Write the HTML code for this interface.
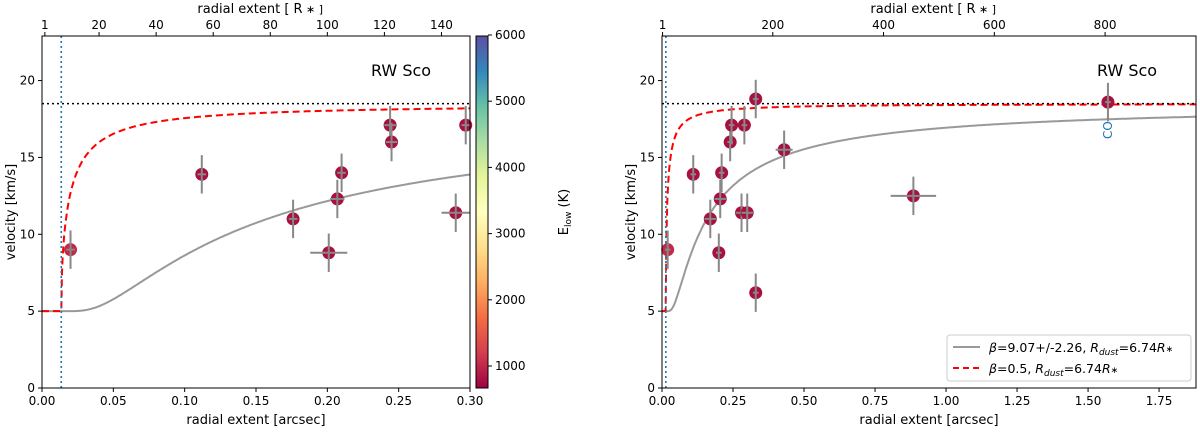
<!DOCTYPE html>
<html><head><meta charset="utf-8"><style>
body{margin:0;background:#fff;width:1200px;height:430px;overflow:hidden}
svg text{font-family:"DejaVu Sans","Liberation Sans",sans-serif;fill:#000}
</style></head><body>
<svg id="c" width="1200" height="430" xmlns="http://www.w3.org/2000/svg">
<defs><linearGradient id="cb" x1="0" y1="1" x2="0" y2="0">
<stop offset="0" stop-color="#9e0142"/><stop offset="0.1" stop-color="#d53e4f"/><stop offset="0.2" stop-color="#f46d43"/><stop offset="0.3" stop-color="#fdae61"/><stop offset="0.4" stop-color="#fee08b"/><stop offset="0.5" stop-color="#ffffbf"/><stop offset="0.6" stop-color="#e6f598"/><stop offset="0.7" stop-color="#abdda4"/><stop offset="0.8" stop-color="#66c2a5"/><stop offset="0.9" stop-color="#3288bd"/><stop offset="1" stop-color="#5e4fa2"/></linearGradient></defs>
</svg>
<script>
const leftX=[0.020,0.112,0.176,0.201,0.207,0.210,0.244,0.245,0.290,0.297];
const leftY=[9.0,13.9,11.0,8.8,12.3,14.0,17.1,16.0,11.4,17.1];
const leftXerr=[0.003,0.003,0.003,0.013,0.005,0.003,0.004,0.004,0.010,0.003];
const rightX=[0.02,0.11,0.17,0.20,0.205,0.21,0.24,0.245,0.28,0.29,0.30,0.33,0.33,0.43,0.885,1.57];
const rightY=[9.0,13.9,11.0,8.8,12.3,14.0,16.0,17.1,11.4,17.1,11.4,18.8,6.2,15.5,12.5,18.6];
const rightXerr=[0.01,0.01,0.02,0.01,0.02,0.01,0.01,0.01,0.02,0.01,0.02,0.01,0.01,0.03,0.08,0.01];
const yErr=1.25;
const leftXTicks=[0,0.05,0.10,0.15,0.20,0.25,0.30];
const rightXTicks=[0,0.25,0.5,0.75,1.0,1.25,1.5,1.75];
const yTicks=[0,5,10,15,20];
const leftTopTicks=[1,20,40,60,80,100,120,140];
const rightTopTicks=[1,200,400,600,800];
const cbTicks=[1000,2000,3000,4000,5000,6000];
const vInf=18.5,v0=5,rDust=0.0135,betaFit=9.07,betaRef=0.5;
const svg=document.getElementById('c');const NS='http://www.w3.org/2000/svg';
function el(t,a,p){const e=document.createElementNS(NS,t);for(const k in a)e.setAttribute(k,a[k]);(p||svg).appendChild(e);return e;}
function txt(s,a,p){const e=el('text',a,p);e.textContent=s;return e;}
function beta(r,b){return r<=rDust?v0:v0+(vInf-v0)*Math.pow(1-rDust/r,b);}
function panel(name,L,R,xmax,X,Y,XE,xt,tt,fmt,legend,rStar){
 const T=36,B=388,ymax=22.9;
 const sx=v=>L+(v/xmax)*(R-L), sy=v=>B-(v/ymax)*(B-T);
 const g=el('g',{},svg);
 let d1='',d2='';for(let i=0;i<=600;i++){const r=xmax*i/600;d1+=(i?'L':'M')+sx(r).toFixed(1)+','+sy(beta(r,betaFit)).toFixed(1);d2+=(i?'L':'M')+sx(r).toFixed(1)+','+sy(beta(r,betaRef)).toFixed(1);}
 const c1=el('path',{d:d1,fill:'none',stroke:'#999','stroke-width':2},g);
 const c2=el('path',{d:d2,fill:'none',stroke:'#f00','stroke-width':2,'stroke-dasharray':'7,4'},g);
 const h=el('line',{x1:L,x2:R,y1:sy(vInf),y2:sy(vInf),stroke:'#000','stroke-width':1.6,'stroke-dasharray':'2,3'},g);
 const vl=el('line',{x1:sx(rDust),x2:sx(rDust),y1:T,y2:B,stroke:'#1f77b4','stroke-width':1.6,'stroke-dasharray':'2,3'},g);
 for(let i=0;i<X.length;i++){
  const cx=sx(X[i]),cy=sy(Y[i]);
  const m=el('circle',{cx:cx,cy:cy,r:6.5,fill:i==0?'#c1294a':'#a8103f'},g);
  const e1=el('line',{x1:cx,x2:cx,y1:sy(Y[i]-yErr),y2:sy(Y[i]+yErr),stroke:'#888','stroke-width':2},g);
  const e2=el('line',{x1:sx(X[i]-XE[i]),x2:sx(X[i]+XE[i]),y1:cy,y2:cy,stroke:'#888','stroke-width':2},g);
 }
 const fr=el('rect',{x:L,y:T,width:R-L,height:B-T,fill:'none',stroke:'#000','stroke-width':1},g);
 xt.forEach(v=>{const x=sx(v);el('line',{x1:x,x2:x,y1:B,y2:B+4,stroke:'#000'},g);const t=txt(fmt(v),{x:x,y:B+17,'font-size':12,'text-anchor':'middle'},g);});
 yTicks.forEach(v=>{const y=sy(v);el('line',{x1:L-4,x2:L,y1:y,y2:y,stroke:'#000'},g);const t=txt(v,{x:L-7,y:y+4,'font-size':12,'text-anchor':'end'},g);});
 tt.forEach(v=>{const x=sx(v*rStar);el('line',{x1:x,x2:x,y1:T-4,y2:T,stroke:'#000'},g);const t=txt(v,{x:x,y:T-7,'font-size':12,'text-anchor':'middle'},g);});
 let t=txt('radial extent [arcsec]',{x:(L+R)/2,y:B+36,'font-size':13,'text-anchor':'middle'},g);
 t=txt('radial extent [ R',{x:(L+R)/2-6,y:13,'font-size':13,'text-anchor':'middle'},g);
 txt('∗ ]',{x:(L+R)/2+50,y:13,'font-size':11},g);
 t=txt('velocity [km/s]',{x:0,y:0,'font-size':13,'text-anchor':'middle',transform:`translate(${L-27},${(T+B)/2}) rotate(-90)`},g);
 t=txt('RW Sco',{x:R-69,y:76,'font-size':16,'text-anchor':'middle'},g);
 if(legend){
  const lg=el('g',{},g);
  el('rect',{x:947,y:335,width:244,height:46,rx:3,fill:'#fff',stroke:'#ccc'},lg);
  el('line',{x1:953,x2:980,y1:347,y2:347,stroke:'#999','stroke-width':2},lg);
  el('line',{x1:953,x2:980,y1:368,y2:368,stroke:'#f00','stroke-width':2,'stroke-dasharray':'6,4'},lg);
  let a=txt('',{x:989,y:352,'font-size':12.5},lg);a.innerHTML='<tspan font-style="italic">β</tspan>=9.07+/-2.26, <tspan font-style="italic">R</tspan><tspan font-size="9" dy="3" font-style="italic">dust</tspan><tspan dy="-3">=6.74</tspan><tspan font-style="italic">R</tspan><tspan font-size="9">∗</tspan>';
  a=txt('',{x:989,y:373,'font-size':12.5},lg);a.innerHTML='<tspan font-style="italic">β</tspan>=0.5, <tspan font-style="italic">R</tspan><tspan font-size="9" dy="3" font-style="italic">dust</tspan><tspan dy="-3">=6.74</tspan><tspan font-style="italic">R</tspan><tspan font-size="9">∗</tspan>';
  const li=X.length-1;
  const co=txt('CO',{x:0,y:0,'font-size':12,style:'fill:#1f77b4','text-anchor':'middle',transform:`translate(${sx(X[li])+4},${sy(Y[li])+28}) rotate(-90)`},g);
 }
}
const f2=v=>v.toFixed(2);
panel('left',42,470,0.30,leftX,leftY,leftXerr,leftXTicks,leftTopTicks,f2,false,0.002);
panel('right',662,1196,1.88,rightX,rightY,rightXerr,rightXTicks,rightTopTicks,f2,true,0.00195);
const cg=el('g',{});
el('rect',{x:476,y:36,width:12,height:352,fill:'url(#cb)',stroke:'#000','stroke-width':1},cg);
const cbY=v=>366-(v-1000)*0.0662;
cbTicks.forEach(v=>{const y=cbY(v);el('line',{x1:488,x2:492,y1:y,y2:y,stroke:'#000'},cg);const t=txt(v,{x:495,y:y+4,'font-size':12},cg);});
const ct=txt('',{x:0,y:0,'font-size':13,'text-anchor':'middle',transform:'translate(568,212) rotate(-90)'},cg);ct.innerHTML='E<tspan font-size="9" dy="3">low</tspan><tspan dy="-3"> (K)</tspan>';


</script>
</body></html>
